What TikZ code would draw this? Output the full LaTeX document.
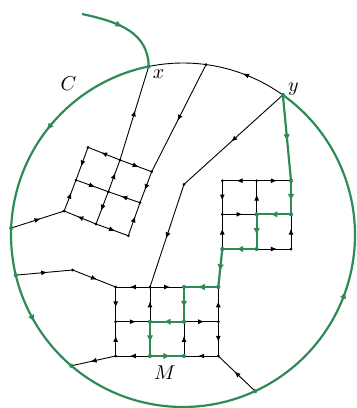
\documentclass[tikz,border=0pt]{standalone}
\usetikzlibrary{arrows.meta,decorations.markings,calc}
\definecolor{pathgreen}{RGB}{46,139,87}
\begin{document}
\begin{tikzpicture}[x=0.5pt,y=-0.5pt,
  blk/.tip={Latex[length=3pt,width=2.5pt]},
  grn/.tip={Latex[length=3.6pt,width=3.3pt]},
  midarrow/.style={postaction={decorate},decoration={markings,mark=at position #1 with {\arrow[xshift=1.5pt]{blk}}}},
  midarrow/.default=0.5,
  gmidarrow/.style={postaction={decorate},decoration={markings,mark=at position #1 with {\arrow[xshift=1.8pt]{grn}}}},
  gmidarrow/.default=0.5,
  edge/.style={black,line width=0.45pt,midarrow},
  gedge/.style={pathgreen,line width=1.1pt,gmidarrow=#1},
  gedge/.default=0.5,
  lbl/.style={inner sep=0pt}]
\useasboundingbox (0,0) rectangle (357,408);

% circle points
\coordinate (O) at (183,235);
\coordinate (x)  at ($(O)+(258.5:172)$);
\coordinate (T)  at ($(O)+(277.7:172)$);
\coordinate (y)  at ($(O)+(305.5:172)$);
\coordinate (L1) at ($(O)+(182.3:172)$);
\coordinate (L2) at ($(O)+(166.5:172)$);
\coordinate (BL) at ($(O)+(130.5:172)$);
\coordinate (BR) at ($(O)+(65.2:172)$);
\coordinate (s)  at (82,14);

% upper-left tilted grid
\coordinate (A1) at (88,147.3);
\coordinate (A2) at (120,160);
\coordinate (A3) at (151.7,171.7);
\coordinate (B1) at (76,180);
\coordinate (B2) at (108.3,191.7);
\coordinate (B3) at (140,202.7);
\coordinate (C1) at (64.2,211);
\coordinate (C2) at (96,224);
\coordinate (C3) at (128.3,235.7);
\coordinate (D)  at (184,184.3);
\coordinate (P)  at (72.7,270);

% right grid
\coordinate (R11) at (222.3,180.7);
\coordinate (R12) at (256.7,180.7);
\coordinate (R13) at (291,180.7);
\coordinate (R21) at (222.3,214.3);
\coordinate (R22) at (256.7,214.3);
\coordinate (R23) at (291,214.3);
\coordinate (R31) at (222.3,249);
\coordinate (R32) at (256.7,249);
\coordinate (R33) at (291,249);

% bottom grid
\coordinate (G11) at (115.7,287);
\coordinate (G12) at (150,287);
\coordinate (G13) at (184,287);
\coordinate (G14) at (218.3,287);
\coordinate (G21) at (115.7,321.7);
\coordinate (G22) at (150,321.7);
\coordinate (G23) at (184,321.7);
\coordinate (G24) at (218.3,321.7);
\coordinate (G31) at (115.7,356);
\coordinate (G32) at (150,356);
\coordinate (G33) at (184,356);
\coordinate (G34) at (218.3,356);

% circle: black arc y -> x
\draw[black,line width=0.45pt,postaction={decorate},
  decoration={markings,mark=at position 0.30 with {\arrow[xshift=1.5pt]{blk}}}]
  plot[domain=305.5:258.5,samples=40] ({183+172*cos(\x)},{235+172*sin(\x)});
% circle: green arc x -> y
\draw[pathgreen,line width=1.1pt,postaction={decorate},
  decoration={markings,
    mark=at position 0.127 with {\arrow[xshift=1.8pt]{grn}},
    mark=at position 0.344 with {\arrow[xshift=1.8pt]{grn}},
    mark=at position 0.761 with {\arrow[xshift=1.8pt]{grn}}}]
  plot[domain=258.5:-54.5,samples=200] ({183+172*cos(\x)},{235+172*sin(\x)});

% incoming green curve
\draw[gedge=0.42] (s) .. controls (120,22) and (148,33) .. (x);

% black edges
\draw[edge] (A2) -- (A1);
\draw[edge] (A2) -- (A3);
\draw[edge] (A1) -- (B1);
\draw[edge] (B2) -- (A2);
\draw[edge] (A3) -- (B3);
\draw[edge] (B1) -- (B2);
\draw[edge] (B3) -- (B2);
\draw[edge] (C1) -- (B1);
\draw[edge] (B2) -- (C2);
\draw[edge] (C3) -- (B3);
\draw[edge] (C2) -- (C1);
\draw[edge] (C2) -- (C3);
\draw[edge] (L1) -- (C1);
\draw[edge] (A2) -- (x);
\draw[edge] (T) -- (A3);
\draw[edge] (y) -- (D);
\draw[edge] (D) -- (G12);
\draw[edge] (L2) -- (P);
\draw[edge] (P) -- (G11);
\draw[edge] (G31) -- (BL);
\draw[edge] (BR) -- (G34);

\draw[edge] (R12) -- (R11);
\draw[edge] (R12) -- (R13);
\draw[edge] (R21) -- (R22);
\draw[edge] (R32) -- (R33);
\draw[edge] (R11) -- (R21);
\draw[edge] (R31) -- (R21);
\draw[edge] (R22) -- (R12);
\draw[edge] (R33) -- (R23);

\draw[edge] (G12) -- (G11);
\draw[edge] (G12) -- (G13);
\draw[edge] (G21) -- (G22);
\draw[edge] (G23) -- (G24);
\draw[edge] (G32) -- (G31);
\draw[edge] (G34) -- (G33);
\draw[edge] (G11) -- (G21);
\draw[edge] (G31) -- (G21);
\draw[edge] (G22) -- (G12);
\draw[edge] (G33) -- (G23);
\draw[edge] (G24) -- (G14);
\draw[edge] (G24) -- (G34);

% green path
\draw[gedge] (y) -- (R13);
\draw[gedge] (R13) -- (R23);
\draw[gedge] (R23) -- (R22);
\draw[gedge] (R22) -- (R32);
\draw[gedge] (R32) -- (R31);
\draw[gedge] (R31) -- (G14);
\draw[gedge] (G14) -- (G13);
\draw[gedge] (G13) -- (G23);
\draw[gedge] (G23) -- (G22);
\draw[gedge] (G22) -- (G32);
\draw[gedge] (G32) -- (G33);

% dots
\foreach \n in {T,A1,A2,A3,B1,B2,B3,C1,C2,C3,D,P,R11,R12,R21,R33,G11,G12,G21,G31,G24,G34}
  \fill[black] (\n) circle (0.75pt);
\foreach \n in {x,y,L1,L2,BL,BR,R13,R23,R22,R32,R31,G14,G13,G23,G22,G32,G33}
  \fill[pathgreen] (\n) circle (1.05pt);

% labels
\node[lbl] (Clabel) at (68.5,84) {$C$};
\node[lbl] (xlabel) at (158.5,74.5) {$x$};
\node[lbl] (ylabel) at (293.5,89) {$y$};
\node[lbl] (Mlabel) at (165,373) {$M$};
\end{tikzpicture}
\end{document}
